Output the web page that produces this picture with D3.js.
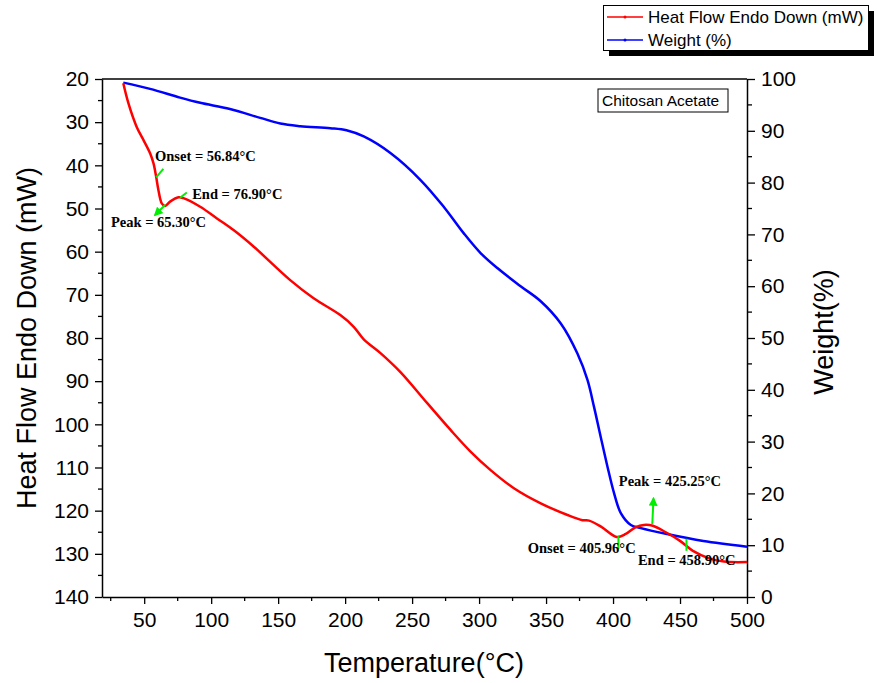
<!DOCTYPE html>
<html><head><meta charset="utf-8">
<script src="https://cdn.jsdelivr.net/npm/d3@7"></script>
<style>body{margin:0;background:#fff}svg{display:block}</style>
</head><body>
<svg id="c" width="877" height="683"></svg>
<script>
// ---- data ----
const heatT = [34.4,38.2,44.4,49.4,54.4,56.9,58.9,60.6,63.1,65.6,69.3,75.6,79.3,91.8,104.3,116.7,131.6,159,176.5,196.4,206.4,213.9,226.4,241.3,261.3,278.7,293.6,308.6,326,346,366,377.2,382.1,391,402.8,409.5,417,423,429.7,439.4,450,459.6,472.3,482.8,500];
const heatV = [21.0,25.6,31.1,34.1,37.2,39.5,42.6,45.7,48.8,49.4,48.4,47.4,47.6,49.6,52.3,55.0,58.8,66.6,70.8,74.7,77.4,80.3,83.5,87.9,95.1,101.3,106.3,110.6,114.8,118.3,121.0,122.2,122.3,123.7,126.1,125.4,123.8,123.3,123.5,125,127,129.3,131.1,131.8,131.9];
const wT = [34.4,54.4,76.8,91.8,114,136.6,151.6,166.5,189,201,213.9,233.8,256.3,273.7,288.6,301.1,313.6,331,346,361,373.4,380.9,385.8,390.8,395.8,400.8,405.8,413.3,420.8,439.4,467.4,500];
const wV = [99.3,98.1,96.4,95.4,94.2,92.5,91.4,90.9,90.5,90.1,88.9,85.7,80.5,75.3,70.2,66.4,63.5,60.0,57.1,52.8,47.0,41.9,36.7,30.9,25.2,20.0,16.2,13.9,13.3,12.2,10.8,9.7];
const xTicks = [50,100,150,200,250,300,350,400,450,500];
const yLeftTicks = [20,30,40,50,60,70,80,90,100,110,120,130,140];
const yRightTicks = [0,10,20,30,40,50,60,70,80,90,100];
const labels = [
  {t:"Onset = 56.84°C", T:58.1, v:39.0},
  {t:"End = 76.90°C", T:85.8, v:47.8},
  {t:"Peak = 65.30°C", T:25.2, v:54.3},
  {t:"Peak = 425.25°C", T:404.3, v:114.4},
  {t:"Onset = 405.96°C", T:336.3, v:129.9},
  {t:"End = 458.90°C", T:418.6, v:132.7}
];
const greenMarks = [
  {T1:58.9,v1:42.8,T2:64.3,v2:40.8,arrow:false},
  {T1:76.8,v1:47.5,T2:81.8,v2:46.3,arrow:false},
  {T1:65.6,v1:49.2,T2:58.1,v2:51.5,arrow:true},
  {T1:404.0,v1:125.9,T2:404.0,v2:128.9,arrow:false},
  {T1:429.3,v1:123.1,T2:430.2,v2:117.2,arrow:true},
  {T1:454.8,v1:126.5,T2:454.8,v2:129.3,arrow:false}
];
const seriesNames = ["Heat Flow Endo Down (mW)","Weight (%)"];
const seriesColors = ["#ff0000","#0000ff"];

// ---- layout ----
const L=102,R=747,T=79,B=597;
const svg=d3.select("#c");
const x=d3.scaleLinear().domain([18.5,500]).range([L,R]);
const yL=d3.scaleLinear().domain([20,140]).range([T,B]);
const yR=d3.scaleLinear().domain([0,100]).range([B,T]);
const font="'Liberation Sans', Arial, sans-serif";

svg.append("defs").append("marker").attr("id","ah").attr("viewBox","0 0 10 10")
 .attr("refX",8).attr("refY",5).attr("markerWidth",4.5).attr("markerHeight",4.5).attr("orient","auto")
 .append("path").attr("d","M0,0L10,5L0,10z").attr("fill","#00ee00");

// frame top
svg.append("line").attr("x1",L).attr("x2",R).attr("y1",T).attr("y2",T).attr("stroke","#000").attr("stroke-width",1.5);

// axes
function styleAxis(g){g.selectAll("path").attr("stroke","#000").attr("stroke-width",1.5);
 g.selectAll("line").attr("stroke","#000").attr("stroke-width",1.3);
 g.selectAll("text").attr("font-family",font).attr("font-size",21).attr("fill","#000");}
const gx=svg.append("g").attr("transform",`translate(0,${B})`)
 .call(d3.axisBottom(x).tickValues(xTicks).tickSize(7).tickSizeOuter(0).tickPadding(8));
styleAxis(gx);
gx.selectAll(".minor").data(d3.range(25,500,50)).enter().append("line").attr("x1",d=>x(d)).attr("x2",d=>x(d)).attr("y1",0).attr("y2",4).attr("stroke","#000").attr("stroke-width",1.3);
const gl=svg.append("g").attr("transform",`translate(${L},0)`)
 .call(d3.axisLeft(yL).tickValues(yLeftTicks).tickSize(7).tickSizeOuter(0).tickPadding(6));
styleAxis(gl);
gl.selectAll(".minor").data(d3.range(25,140,10)).enter().append("line").attr("x1",0).attr("x2",-4).attr("y1",d=>yL(d)).attr("y2",d=>yL(d)).attr("stroke","#000").attr("stroke-width",1.3);
const gr=svg.append("g").attr("transform",`translate(${R},0)`)
 .call(d3.axisRight(yR).tickValues(yRightTicks).tickSize(8).tickSizeOuter(0).tickPadding(6));
styleAxis(gr);
gr.selectAll(".minor").data(d3.range(5,100,10)).enter().append("line").attr("x1",0).attr("x2",5).attr("y1",d=>yR(d)).attr("y2",d=>yR(d)).attr("stroke","#000").attr("stroke-width",1.3);

// axis titles
svg.append("text").attr("x",424).attr("y",672).attr("text-anchor","middle").attr("font-family",font).attr("font-size",27).text("Temperature(°C)");
svg.append("text").attr("transform",`translate(36,${(T+B)/2}) rotate(-90)`).attr("text-anchor","middle").attr("font-family",font).attr("font-size",27).text("Heat Flow Endo Down (mW)");
svg.append("text").attr("transform",`translate(833,${(T+B)/2-6}) rotate(-90)`).attr("text-anchor","middle").attr("font-family",font).attr("font-size",27).text("Weight(%)");

// lines
const heat=heatT.map((t,i)=>[t,heatV[i]]);
const wt=wT.map((t,i)=>[t,wV[i]]);
svg.append("path").datum(wt).attr("fill","none").attr("stroke",seriesColors[1]).attr("stroke-width",2.5)
 .attr("d",d3.line().x(d=>x(d[0])).y(d=>yR(d[1])).curve(d3.curveCatmullRom.alpha(0.5)));
svg.append("path").datum(heat).attr("fill","none").attr("stroke",seriesColors[0]).attr("stroke-width",2.5)
 .attr("d",d3.line().x(d=>x(d[0])).y(d=>yL(d[1])).curve(d3.curveCatmullRom.alpha(0.5)));

// green annotations
greenMarks.forEach(m=>{
 svg.append("line").attr("x1",x(m.T1)).attr("y1",yL(m.v1)).attr("x2",x(m.T2)).attr("y2",yL(m.v2))
  .attr("stroke","#00ee00").attr("stroke-width",2).attr("marker-end",m.arrow?"url(#ah)":null);
});
labels.forEach(l=>{
 svg.append("text").attr("x",x(l.T)).attr("y",yL(l.v)).attr("font-family","'Liberation Serif','Times New Roman',serif")
  .attr("font-weight","bold").attr("font-size",14.5).text(l.t);
});

// Chitosan box
svg.append("rect").attr("x",598).attr("y",89).attr("width",130).attr("height",23).attr("fill","#fff").attr("stroke","#000").attr("stroke-width",1);
svg.append("text").attr("x",602).attr("y",106).attr("font-family",font).attr("font-size",15.5).text("Chitosan Acetate");

// legend
svg.append("rect").attr("x",609).attr("y",11).attr("width",265).attr("height",45).attr("fill","#000");
svg.append("rect").attr("x",603.5).attr("y",5.5).attr("width",265).attr("height",45).attr("fill","#fff").attr("stroke","#000").attr("stroke-width",1);
seriesNames.forEach((n,i)=>{
 const yy=17+i*23;
 svg.append("line").attr("x1",607).attr("x2",643).attr("y1",yy).attr("y2",yy).attr("stroke",seriesColors[i]).attr("stroke-width",1.5);
 svg.append("circle").attr("cx",625).attr("cy",yy).attr("r",1.5).attr("fill",seriesColors[i]);
 svg.append("text").attr("x",648).attr("y",yy+6).attr("font-family",font).attr("font-size",17).text(n);
});
</script>
</body></html>
